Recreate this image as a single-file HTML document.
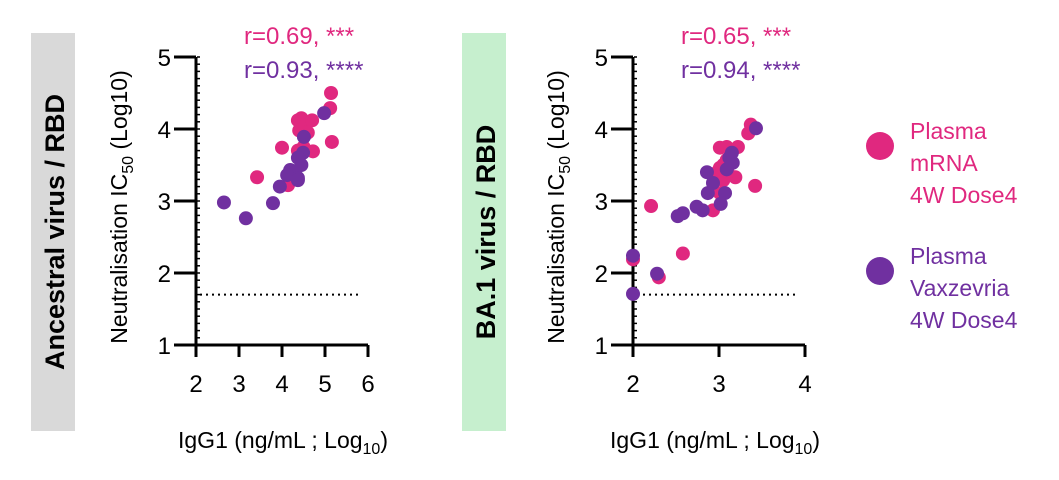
<!DOCTYPE html>
<html><head><meta charset="utf-8"><style>
body{margin:0;background:#fff;font-family:"Liberation Sans",Arial,sans-serif}
svg text{font-family:"Liberation Sans",Arial,sans-serif}
</style></head><body>
<svg width="1059" height="475" viewBox="0 0 1059 475" xmlns="http://www.w3.org/2000/svg">
<rect x="31" y="33" width="44" height="398" fill="#d9d9d9"/>
<text transform="translate(64,232) rotate(-90)" text-anchor="middle" font-size="27" font-weight="bold" fill="#000">Ancestral virus / RBD</text>
<rect x="462" y="33" width="44" height="398" fill="#c6efce"/>
<text transform="translate(495,232) rotate(-90)" text-anchor="middle" font-size="27" font-weight="bold" fill="#000">BA.1 virus / RBD</text>
<g id="p1"></g>
<g id="p2"></g>
<circle cx="880" cy="146" r="14" fill="#e0287f"/>
<text x="910" y="139" font-size="23" fill="#e0287f"><tspan x="910">Plasma</tspan><tspan x="910" dy="32">mRNA</tspan><tspan x="910" dy="32">4W Dose4</tspan></text>
<circle cx="880" cy="271" r="14" fill="#7030a0"/>
<text x="910" y="264" font-size="23" fill="#7030a0"><tspan x="910">Plasma</tspan><tspan x="910" dy="32">Vaxzevria</tspan><tspan x="910" dy="32">4W Dose4</tspan></text>
</svg>
<script>
const NS="http://www.w3.org/2000/svg";
const a_pinkX=[5.14,5.12,5.16,4.0,3.42,4.37,4.45,4.55,4.7,4.4,4.6,4.72,4.37,4.14,4.5];
const a_pinkY=[4.5,4.29,3.82,3.74,3.33,4.12,4.15,4.05,4.12,3.98,3.95,3.69,3.7,3.22,3.75];
const a_purpX=[4.98,4.51,4.49,4.37,4.19,4.3,4.37,3.95,3.79,2.65,3.16,4.12,4.37,4.45];
const a_purpY=[4.22,3.89,3.67,3.6,3.43,3.39,3.32,3.2,2.97,2.98,2.76,3.36,3.29,3.5];
const b_pinkX=[3.37,3.34,3.01,3.09,3.22,3.01,2.98,3.19,3.05,3.42,3.01,2.93,2.21,2.58,2.0,2.3,3.09,3.05,3.1];
const b_pinkY=[4.06,3.94,3.74,3.75,3.75,3.46,3.4,3.33,3.29,3.21,3.11,2.87,2.93,2.27,2.19,1.94,3.57,3.5,3.4];
const b_purpX=[3.43,3.15,3.16,3.09,2.86,2.93,2.87,3.07,3.02,2.74,2.81,2.52,2.58,2.0,2.28,2.0,3.12];
const b_purpY=[4.01,3.67,3.53,3.44,3.4,3.25,3.11,3.11,2.96,2.92,2.87,2.79,2.83,2.24,1.99,1.71,3.6];
const yTicks=[1,2,3,4,5];
const a_xTicks=[2,3,4,5,6];
const b_xTicks=[2,3,4];
const lod=1.7;
function mk(p,t,at,txt){const e=document.createElementNS(NS,t);for(const k in at)e.setAttribute(k,at[k]);if(txt!==undefined)e.textContent=txt;p.appendChild(e);return e;}
function plot(g,x0,x1,xmin,xmax,xt,pX,pY,uX,uY,rp,rq,xtit){
 const y0=345,y1=57,ymin=1,ymax=5;
 const sx=v=>x0+(v-xmin)/(xmax-xmin)*(x1-x0), sy=v=>y0-(v-ymin)/(ymax-ymin)*(y0-y1);
 let e=mk(g,'line',{x1:x0,y1:y1,x2:x0,y2:y0+1,stroke:'#000','stroke-width':3});
 
 e=mk(g,'line',{x1:x0-1,y1:y0,x2:x1,y2:y0,stroke:'#000','stroke-width':3});
 
 for(let v=ymin;v<ymax;v+=0.1){const m=mk(g,'line',{x1:x0+1,y1:sy(v),x2:x0+4,y2:sy(v),stroke:'#000','stroke-width':1.5});}
 yTicks.forEach(v=>{e=mk(g,'line',{x1:x0-22,y1:sy(v),x2:x0,y2:sy(v),stroke:'#000','stroke-width':3});
  e=mk(g,'text',{x:x0-25,y:sy(v)+9,'text-anchor':'end','font-size':24},v);});
 xt.forEach(v=>{e=mk(g,'line',{x1:sx(v),y1:y0,x2:sx(v),y2:y0+12,stroke:'#000','stroke-width':3});
  e=mk(g,'text',{x:sx(v),y:y0+47,'text-anchor':'middle','font-size':24},v);});
 e=mk(g,'line',{x1:x0+4,y1:sy(lod),x2:x1-6,y2:sy(lod),stroke:'#000','stroke-width':2,'stroke-dasharray':'2 4'});
 
 pX.forEach((v,i)=>{const c=mk(g,'circle',{cx:sx(v),cy:sy(pY[i]),r:7,fill:'#e0287f'});});
 uX.forEach((v,i)=>{const c=mk(g,'circle',{cx:sx(v),cy:sy(uY[i]),r:7,fill:'#7030a0'});});
 e=mk(g,'text',{transform:`translate(${x0-69},${(y0+y1)/2+6}) rotate(-90)`,'text-anchor':'middle','font-size':23});
 e.innerHTML='Neutralisation IC<tspan font-size="16" dy="6">50</tspan><tspan dy="-6"> (Log10)</tspan>';
 
 e=mk(g,'text',{x:xtit,y:448,'text-anchor':'middle','font-size':23});
 e.innerHTML='IgG1 (ng/mL ; Log<tspan font-size="16" dy="6">10</tspan><tspan dy="-6">)</tspan>';
 
 e=mk(g,'text',{x:x0+48,y:44,'font-size':24,fill:'#e0287f'},rp);
 e=mk(g,'text',{x:x0+48,y:78,'font-size':24,fill:'#7030a0'},rq);
}
plot(document.getElementById('p1'),196,368,2,6,a_xTicks,a_pinkX,a_pinkY,a_purpX,a_purpY,'r=0.69, ***','r=0.93, ****',283);
plot(document.getElementById('p2'),633,805,2,4,b_xTicks,b_pinkX,b_pinkY,b_purpX,b_purpY,'r=0.65, ***','r=0.94, ****',715);
</script>
</body></html>
